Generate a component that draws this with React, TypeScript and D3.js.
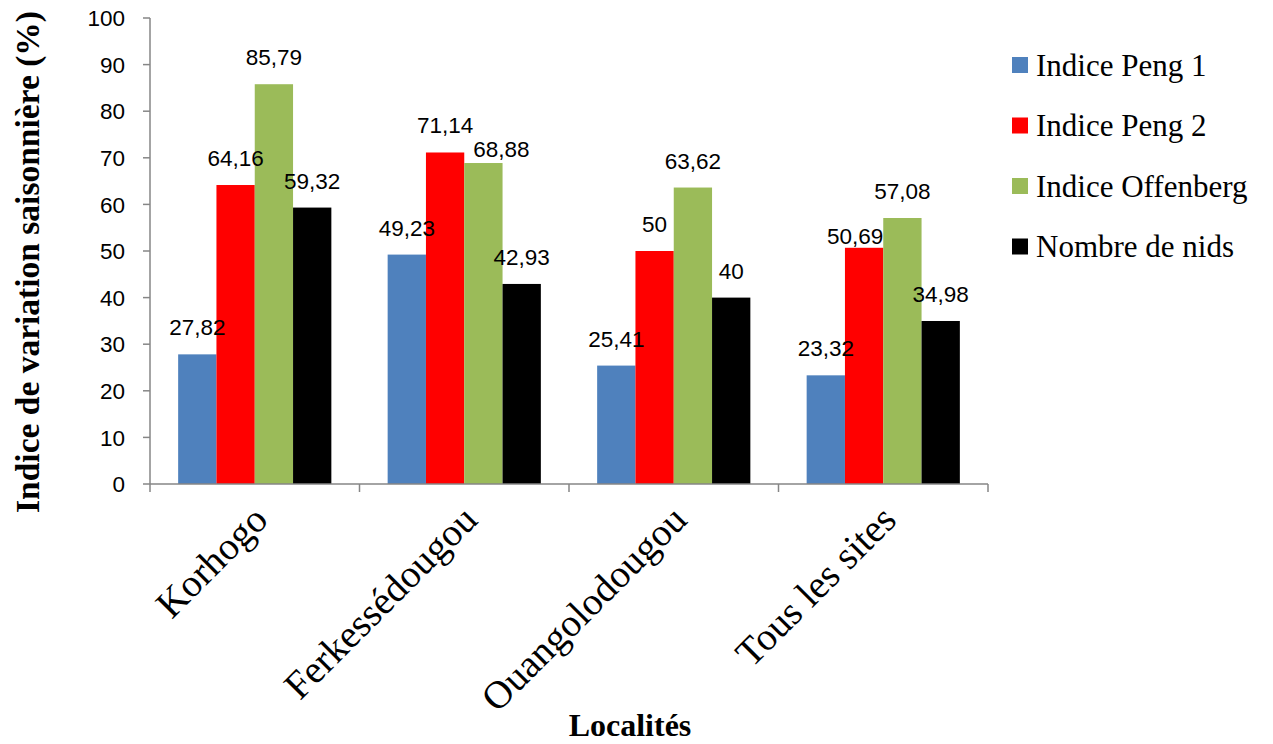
import React, { useEffect } from "react";
import * as d3 from "d3";

const categories = ["Korhogo", "Ferkessédougou", "Ouangolodougou", "Tous les sites"];
const seriesNames = ["Indice Peng 1", "Indice Peng 2", "Indice Offenberg", "Nombre de nids"];
const peng1 = [27.82, 49.23, 25.41, 23.32];
const peng2 = [64.16, 71.14, 50, 50.69];
const offenberg = [85.79, 68.88, 63.62, 57.08];
const nids = [59.32, 42.93, 40, 34.98];
const seriesValues = [peng1, peng2, offenberg, nids];
const colors = ["#4F81BD", "#FF0000", "#9BBB59", "#000000"];
const yTicks = [0, 10, 20, 30, 40, 50, 60, 70, 80, 90, 100];
// manual label nudges (series index, category index) -> [dx, dy]
const labelNudges: Record<string, [number, number]> = { "2-1": [18, 13], "1-3": [-9, 15] };

const W = 1273, H = 744;
const plot = { left: 150, right: 988, top: 18, bottom: 484 };
const numFont = "'Liberation Sans', Arial, sans-serif";
const serif = "'Liberation Serif', 'Times New Roman', serif";

const fmt = (v: number) => String(v).replace(".", ",");

export default function App() {
  useEffect(() => {
    document.body.style.margin = "0";
  }, []);
  const x = d3.scaleBand<string>().domain(categories).range([plot.left, plot.right]).paddingInner(0).paddingOuter(0);
  const inner = d3.scaleBand<number>().domain([0, 1, 2, 3]).range([0, x.bandwidth()]).paddingInner(0).paddingOuter(0.735);
  const y = d3.scaleLinear().domain([0, 100]).range([plot.bottom, plot.top]);
  const axisColor = "#868686";

  return (
    <svg width={W} height={H} style={{ position: "absolute", left: 0, top: 0, background: "#fff" }}>
      {/* y axis */}
      <line x1={plot.left} x2={plot.left} y1={plot.top} y2={plot.bottom} stroke={axisColor} strokeWidth={1.5} />
      {yTicks.map((t) => (
        <g key={t}>
          <line x1={plot.left - 7} x2={plot.left} y1={y(t)} y2={y(t)} stroke={axisColor} strokeWidth={1.5} />
          <text x={125} y={y(t)} dy="0.36em" textAnchor="end" style={{ fontFamily: numFont, fontSize: 22.5 }} fill="#000">{t}</text>
        </g>
      ))}
      {/* bars */}
      {categories.map((c, ci) => (
        <g key={c} transform={`translate(${x(c)},0)`}>
          {seriesValues.map((vals, si) => (
            <rect key={si} x={inner(si)} width={inner.bandwidth()} y={y(vals[ci])} height={y(0) - y(vals[ci])} fill={colors[si]} />
          ))}
          {seriesValues.map((vals, si) => {
            const nd = labelNudges[`${si}-${ci}`] || [0, 0];
            return (
              <text key={"l" + si} x={(inner(si) as number) + inner.bandwidth() / 2 + nd[0]} y={y(vals[ci]) - 19 + nd[1]} textAnchor="middle" style={{ fontFamily: numFont, fontSize: 22.5 }} fill="#000">{fmt(vals[ci])}</text>
            );
          })}
        </g>
      ))}
      {/* x axis */}
      <line x1={plot.left} x2={plot.right} y1={plot.bottom} y2={plot.bottom} stroke={axisColor} strokeWidth={1.5} />
      {[...categories.map((c) => x(c) as number), plot.right].map((px, i) => (
        <line key={i} x1={px} x2={px} y1={plot.bottom} y2={plot.bottom + 8} stroke={axisColor} strokeWidth={1.5} />
      ))}
      {categories.map((c) => {
        const cx = (x(c) as number) + x.bandwidth() / 2 + 15;
        const cy = 522;
        return (
          <text key={c} transform={`translate(${cx},${cy}) rotate(-45)`} textAnchor="end" style={{ fontFamily: serif, fontSize: 39 }} fill="#000">{c}</text>
        );
      })}
      {/* axis titles */}
      <text x={630} y={736} textAnchor="middle" style={{ fontFamily: serif, fontWeight: "bold", fontSize: 32 }} fill="#000">Localités</text>
      <text transform={`translate(39,262) rotate(-90)`} textAnchor="middle" style={{ fontFamily: serif, fontWeight: "bold", fontSize: 33.5 }} fill="#000">Indice de variation saisonnière (%)</text>
      {/* legend */}
      {seriesNames.map((n, i) => (
        <g key={n} transform={`translate(1012,${65 + i * 60.5})`}>
          <rect x={0} y={-8} width={16} height={16} fill={colors[i]} />
          <text x={24} y={0} dy="0.35em" style={{ fontFamily: serif, fontSize: 31 }} fill="#000">{n}</text>
        </g>
      ))}
    </svg>
  );
}
